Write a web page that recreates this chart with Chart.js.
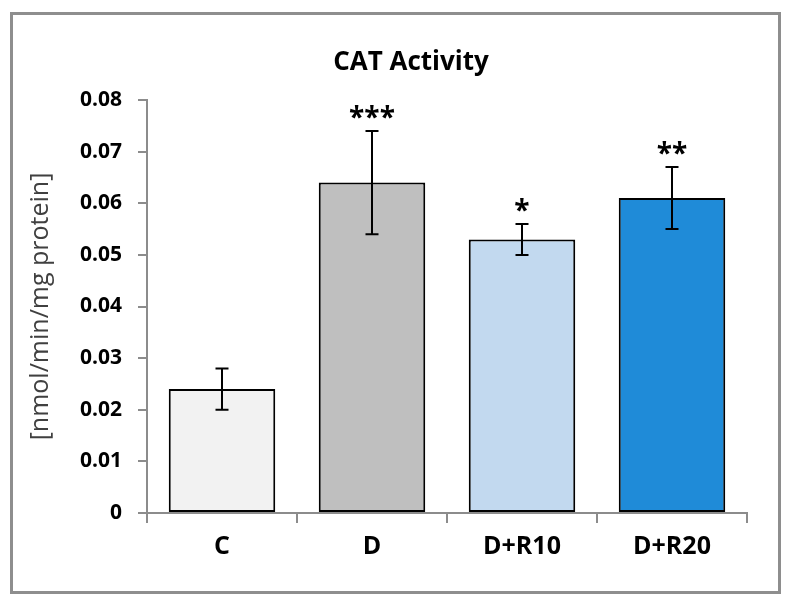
<!DOCTYPE html>
<html>
<head>
<meta charset="utf-8">
<script src="https://cdn.jsdelivr.net/npm/chart.js@4/dist/chart.umd.min.js"></script>
<style>
  html, body { margin: 0; padding: 0; background: #fff; overflow: hidden; }
  #frame { position: absolute; left: 10px; top: 12px; width: 765px; height: 576px; border: 3px solid #8e8e8e; }
  #wrap { position: absolute; left: 0; top: 0; width: 791px; height: 608px; }
</style>
</head>
<body>
<div id="frame"></div>
<div id="wrap"><canvas id="c" width="791" height="608"></canvas></div>
<script>
const categories = ['C', 'D', 'D+R10', 'D+R20'];
const meanValues = [0.024, 0.064, 0.053, 0.061];
const errorValues = [0.004, 0.010, 0.003, 0.006];
const significance = ['', '***', '*', '**'];
const barColors = ['#f2f2f2', '#bfbfbf', '#c2d9ef', '#1f8bd8'];
const yTicks = [0, 0.01, 0.02, 0.03, 0.04, 0.05, 0.06, 0.07, 0.08];
const chartTitle = 'CAT Activity';
const yTitle = '[nmol/min/mg protein]';

const FONT = '"Open Sans", "DejaVu Sans", sans-serif';

const overlay = {
  id: 'overlay',
  afterDatasetsDraw(chart) {
    const ctx = chart.ctx;
    const y = chart.scales.y;
    const meta = chart.getDatasetMeta(0);
    ctx.save();
    ctx.strokeStyle = '#000';
    ctx.lineWidth = 2;
    meta.data.forEach((bar, i) => {
      const x = bar.x;
      const top = y.getPixelForValue(meanValues[i] + errorValues[i]);
      const bot = y.getPixelForValue(meanValues[i] - errorValues[i]);
      const cap = 6.5;
      ctx.beginPath();
      ctx.moveTo(x, top); ctx.lineTo(x, bot);
      ctx.moveTo(x - cap, top); ctx.lineTo(x + cap, top);
      ctx.moveTo(x - cap, bot); ctx.lineTo(x + cap, bot);
      ctx.stroke();
      if (significance[i]) {
        ctx.fillStyle = '#000';
        ctx.font = 'bold 28px ' + FONT;
        ctx.textAlign = 'center';
        ctx.textBaseline = 'alphabetic';
        ctx.fillText(significance[i], x, top - 4);
      }
    });
    // title
    const ca = chart.chartArea;
    ctx.fillStyle = '#000';
    ctx.font = 'bold 26px ' + FONT;
    ctx.textAlign = 'center';
    ctx.textBaseline = 'middle';
    ctx.fillText(chartTitle, ca.left + (ca.right - ca.left) * 0.44, 63);
    ctx.restore();
  }
};

new Chart(document.getElementById('c'), {
  type: 'bar',
  data: {
    labels: categories,
    datasets: [{
      data: meanValues,
      backgroundColor: barColors,
      borderColor: '#000',
      borderWidth: 2,
      borderSkipped: false,
      categoryPercentage: 1,
      barPercentage: 0.71
    }]
  },
  options: {
    responsive: false,
    animation: false,
    devicePixelRatio: 1,
    layout: { padding: { top: 100, right: 44, bottom: 0, left: 0 } },
    plugins: { legend: { display: false }, tooltip: { enabled: false }, title: { display: false } },
    scales: {
      x: {
        grid: { display: true, drawOnChartArea: false, offset: true, tickLength: 10, color: '#8c8c8c', lineWidth: 2 },
        border: { display: true, color: '#8c8c8c', width: 2 },
        ticks: { color: '#000', font: { family: FONT, size: 25, weight: 'bold' }, padding: 9 },
        afterFit(scale) { scale.height = 95; }
      },
      y: {
        min: 0, max: 0.08,
        afterBuildTicks(scale) { scale.ticks = yTicks.map(v => ({ value: v })); },
        grid: { display: true, drawOnChartArea: false, tickLength: 9, color: '#8c8c8c', lineWidth: 2 },
        border: { display: true, color: '#8c8c8c', width: 2 },
        ticks: { color: '#000', font: { family: FONT, size: 21, weight: 'bold' }, padding: 16,
                 callback: (v) => String(Math.round(v * 100) / 100) },
        title: { display: true, text: yTitle, color: '#404040', font: { family: FONT, size: 25 }, padding: { top: 26, bottom: 0 } },
        afterFit(scale) { scale.width = 147; }
      }
    }
  },
  plugins: [overlay]
});
</script>
</body>
</html>
